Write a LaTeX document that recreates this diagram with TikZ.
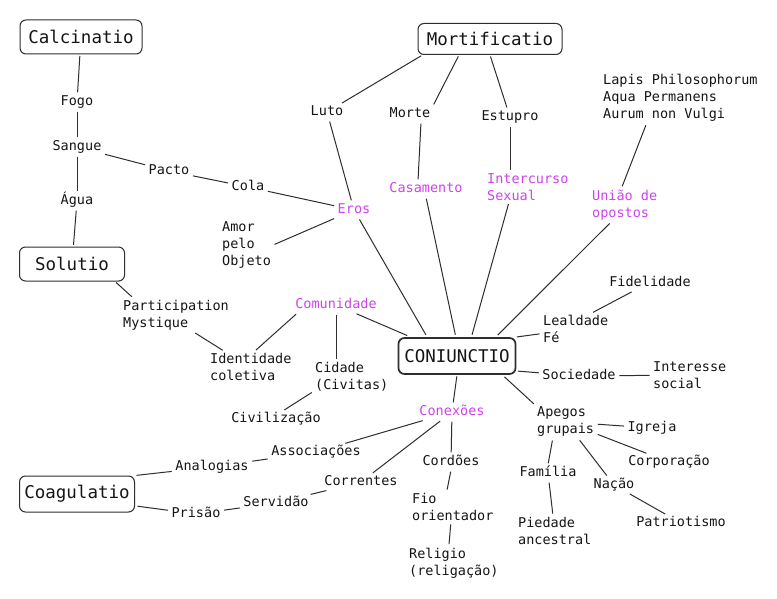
\documentclass[tikz,border=0pt]{standalone}
\usepackage{fontspec}
\setmainfont{DejaVu Sans Mono}
\usetikzlibrary{calc}
\definecolor{ink}{HTML}{151515}
\definecolor{edge}{HTML}{2E2E2E}
\definecolor{purp}{HTML}{CC44EE}
\tikzset{
  tx/.style={inner sep=2pt, text=ink, font=\fontsize{13.5}{17}\selectfont, text height=9.5pt, text depth=2.5pt},
  ml/.style={inner sep=2pt, text=ink, font=\fontsize{13.5}{17}\selectfont, align=left, anchor=west},
  pu/.style={text=purp},
  bigbox/.style={draw=edge, line width=1pt, rounded corners=6pt, inner sep=2pt, text=ink, font=\fontsize{17.5}{20}\selectfont, minimum height=33pt},
  ln/.style={draw=edge, line width=1pt, shorten >=1.5pt, shorten <=1.5pt}
}
\begin{document}
\begin{tikzpicture}[x=1pt,y=-1pt]
\useasboundingbox[fill=white] (0,0) rectangle (777,599);
% big boxes
\node[bigbox, minimum width=122pt, minimum height=34pt] (cal) at (81,37) {Calcinatio};
\node[bigbox, minimum width=144pt, minimum height=31pt] (mort) at (490,39) {Mortificatio};
\node[bigbox, minimum width=105pt, minimum height=34pt] (sol) at (72,264) {Solutio};
\node[bigbox, minimum width=115pt, minimum height=36pt] (coag) at (77,494) {Coagulatio};
\node[bigbox, line width=1.7pt, minimum width=117pt, minimum height=36pt] (C) at (457,356) {CONIUNCTIO};
% single-line nodes
\node[tx] (fogo) at (77,102) {Fogo};
\node[tx] (sang) at (77,147) {Sangue};
\node[tx] (agua) at (77,201) {Água};
\node[tx] (pacto) at (169,171) {Pacto};
\node[tx] (cola) at (248,187) {Cola};
\node[tx,pu] (eros) at (354,210) {Eros};
\node[tx] (luto) at (327,112) {Luto};
\node[tx] (morte) at (410,114) {Morte};
\node[tx] (estu) at (510,117) {Estupro};
\node[tx,pu] (casa) at (426,189) {Casamento};
\node[tx] (fid) at (650,283) {Fidelidade};
\node[tx,pu] (com) at (336,305) {Comunidade};
\node[tx] (civ) at (276,419) {Civilização};
\node[tx] (assoc) at (316,452) {Associações};
\node[tx] (anal) at (212,467) {Analogias};
\node[tx] (corr) at (361,482) {Correntes};
\node[tx] (serv) at (276,503) {Servidão};
\node[tx] (pris) at (196,514) {Prisão};
\node[tx] (soc) at (579,376) {Sociedade};
\node[tx,pu] (conx) at (452,412) {Conexões};
\node[tx] (igr) at (652,428) {Igreja};
\node[tx] (cord) at (451,462) {Cordões};
\node[tx] (corp) at (669,462) {Corporação};
\node[tx] (fam) at (548,473) {Família};
\node[tx] (nacao) at (614,485) {Nação};
\node[tx] (pat) at (681,523) {Patriotismo};
% multi-line nodes
\node[ml] (amor) at (220,245) {Amor\\pelo\\Objeto};
\node[ml] (lapis) at (601,98) {Lapis Philosophorum\\Aqua Permanens\\Aurum non Vulgi};
\node[ml,pu] (inter) at (485,187) {Intercurso\\Sexual};
\node[ml,pu] (uniao) at (590,205) {União de\\opostos};
\node[ml] (part) at (121,315) {Participation\\Mystique};
\node[ml] (ident) at (208,367) {Identidade\\coletiva};
\node[ml] (cid) at (313,377) {Cidade\\(Civitas)};
\node[ml] (leal) at (541,329) {Lealdade\\Fé};
\node[ml] (intsoc) at (651,375) {Interesse\\social};
\node[ml] (ape) at (535,422) {Apegos\\grupais};
\node[ml] (fio) at (410,507) {Fio\\orientador};
\node[ml] (pied) at (516,531) {Piedade\\ancestral};
\node[ml] (rel) at (407,563) {Religio\\(religação)};
% connectors
\path[ln] (cal) -- (fogo);
\path[ln] (fogo) -- (sang);
\path[ln] (sang) -- (agua);
\path[ln] (agua) -- (sol);
\path[ln] (sang) -- (pacto);
\path[ln] (pacto) -- (cola);
\path[ln] (cola) -- (eros);
\path[ln] (eros) -- (amor.east);
\path[ln] (luto) -- (eros);
\path[ln] ($(mort.south west)+(5,0)$) -- (luto);
\path[ln] ($(mort.south)+(-31,0)$) -- ($(morte.north)+(23,0)$);
\path[ln] (mort.south) -- (estu);
\path[ln] ($(morte.south)+(11,0)$) -- ($(casa.north)+(-8,0)$);
\path[ln] (estu.south) -- (estu.south |- inter.north);
\path[ln] ($(lapis.south)+(-34,0)$) -- ($(uniao.north)+(-3,0)$);
\path[ln] (eros) -- ($(C.north west)+(29,-1)$);
\path[ln] ($(casa.south)+(0,0)$) -- ($(C.north west)+(58,-1)$);
\path[ln] ($(inter.south)+(-19,0)$) -- ($(C.north west)+(74,-1)$);
\path[ln] ($(uniao.south)+(-14,0)$) -- ($(C.north west)+(99,-1)$);
\path[ln] (com) -- ($(C.north west)+(11,-1)$);
\path[ln] ($(fid.south)+(-17,0)$) -- ($(leal.north)+(16,0)$);
\path[ln] (leal) -- ($(C.north east)+(-1,0)$);
\path[ln] (soc) -- ($(C.east)+(0,15)$);
\path[ln] (soc) -- (intsoc);
\path[ln] ($(C.south east)+(-13,1)$) -- (ape.north west);
\path[ln] (ape) -- (igr);
\path[ln] (ape) -- (corp);
\path[ln] (ape) -- (nacao);
\path[ln] ($(ape.south)+(-13,0)$) -- (fam.north);
\path[ln] (fam) -- (pied);
\path[ln] (nacao) -- (pat);
\path[ln] (C.south) -- (conx);
\path[ln] (conx) -- (cord);
\path[ln] (cord.south) -- ($(fio.north)+(-6,0)$);
\path[ln] ($(fio.south)+(-2,0)$) -- ($(rel.north)+(-5,0)$);
\path[ln] (conx) -- (assoc);
\path[ln] (conx) -- (corr);
\path[ln] ($(com.south west)+(4,0)$) -- ($(ident.north)+(4,0)$);
\path[ln] (com.south) -- (com.south |- cid.north);
\path[ln] ($(cid.south west)+(0,-2)$) -- ($(civ.north)+(7,0)$);
\path[ln] ($(part.south)+(18,0)$) -- ($(ident.north west)+(16,0)$);
\path[ln] ($(sol.south east)+(-10,0)$) -- ($(part.north west)+(12,0)$);
\path[ln] (anal) -- (assoc);
\path[ln] (coag.north east) -- (anal);
\path[ln] (corr) -- (serv);
\path[ln] (serv) -- (pris);
\path[ln] ($(coag.east)+(1,12)$) -- (pris);
\end{tikzpicture}
\end{document}
